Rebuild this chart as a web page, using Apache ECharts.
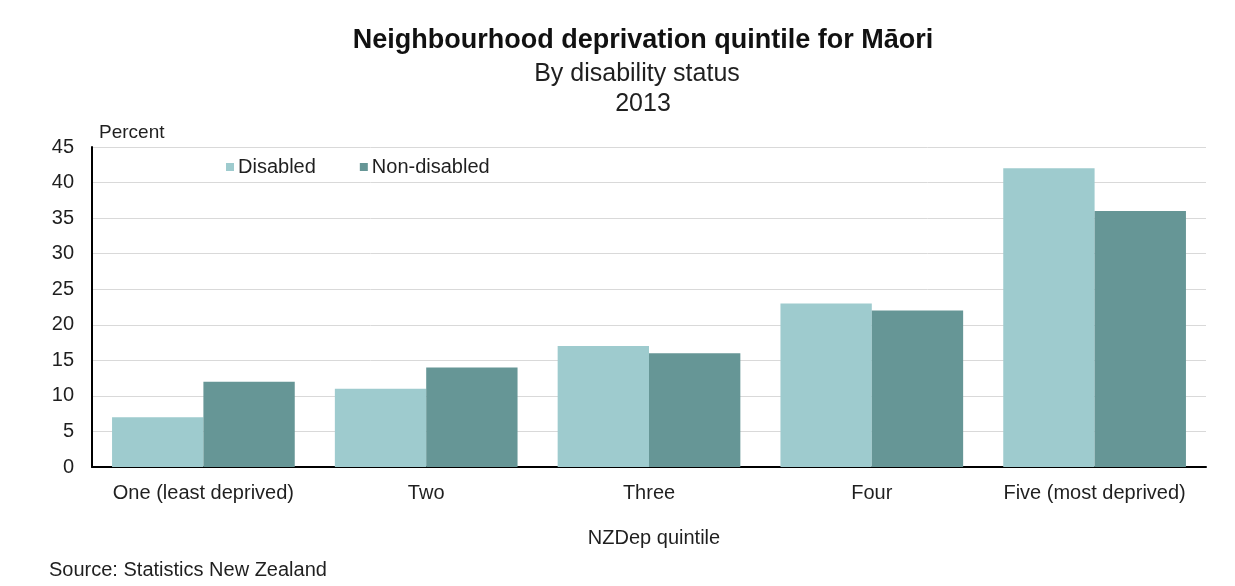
<!DOCTYPE html>
<html>
<head>
<meta charset="utf-8">
<script src="https://cdn.jsdelivr.net/npm/echarts@6/dist/echarts.min.js"></script>
<style>
  html, body { margin: 0; padding: 0; background: #fff; }
  #chart { width: 1235px; height: 586px; }
</style>
</head>
<body>
<div id="chart"></div>
<script>
// NZDep quintiles
const categories = ['One (least deprived)', 'Two', 'Three', 'Four', 'Five (most deprived)']
const disabled = [7, 11, 17, 23, 42]
const nonDisabled = [12, 14, 16, 22, 36]
const yTicks = { min: 0, max: 45, interval: 5 }

const FONT = 'Liberation Sans, Arial, sans-serif'
const TEXT = '#1f1f1f'

const chart = echarts.init(document.getElementById('chart'), null, { renderer: 'canvas' })

chart.setOption({
  backgroundColor: '#fff',
  animation: false,
  textStyle: { fontFamily: FONT },
  title: [
    {
      text: 'Neighbourhood deprivation quintile for Māori',
      left: 638, top: 22, textAlign: 'center',
      textStyle: { fontSize: 27, fontWeight: 'bold', color: '#111', fontFamily: FONT }
    },
    {
      text: 'By disability status',
      left: 632, top: 57, textAlign: 'center',
      textStyle: { fontSize: 25, fontWeight: 'normal', color: TEXT, fontFamily: FONT }
    },
    {
      text: '2013',
      left: 638, top: 87, textAlign: 'center',
      textStyle: { fontSize: 25, fontWeight: 'normal', color: TEXT, fontFamily: FONT }
    },
    {
      text: 'Percent',
      left: 94, top: 118,
      textStyle: { fontSize: 19, fontWeight: 'normal', color: TEXT, fontFamily: FONT }
    },
    {
      text: 'NZDep quintile',
      left: 649, top: 523, textAlign: 'center',
      textStyle: { fontSize: 20, fontWeight: 'normal', color: TEXT, fontFamily: FONT }
    },
    {
      text: 'Source: Statistics New Zealand',
      left: 44, top: 555,
      textStyle: { fontSize: 20, fontWeight: 'normal', color: TEXT, fontFamily: FONT }
    }
  ],
  legend: {
    left: 221, top: 152,
    itemWidth: 8, itemHeight: 8, itemGap: 44,
    icon: 'rect',
    textStyle: { fontSize: 20, color: TEXT, fontFamily: FONT, padding: [0, 0, 0, -1] },
    data: ['Disabled', 'Non-disabled']
  },
  grid: { left: 92, right: 29, top: 147, bottom: 119, containLabel: false },
  xAxis: {
    type: 'category',
    data: categories,
    axisLine: { show: true, lineStyle: { color: '#000', width: 2 } },
    axisTick: { show: false },
    axisLabel: { color: TEXT, fontSize: 20, margin: 16, fontFamily: FONT, interval: 0 }
  },
  yAxis: {
    type: 'value',
    min: yTicks.min, max: yTicks.max, interval: yTicks.interval,
    axisLine: { show: true, lineStyle: { color: '#000', width: 2 } },
    axisTick: { show: false },
    axisLabel: { color: TEXT, fontSize: 20, margin: 18, fontFamily: FONT },
    splitLine: { lineStyle: { color: '#d9d9d9', width: 1 } }
  },
  series: [
    {
      name: 'Disabled',
      type: 'bar',
      data: disabled,
      barGap: '0%',
      barCategoryGap: '18%',
      itemStyle: { color: '#9ecbce' }
    },
    {
      name: 'Non-disabled',
      type: 'bar',
      data: nonDisabled,
      itemStyle: { color: '#669696' }
    }
  ]
})
</script>
</body>
</html>
